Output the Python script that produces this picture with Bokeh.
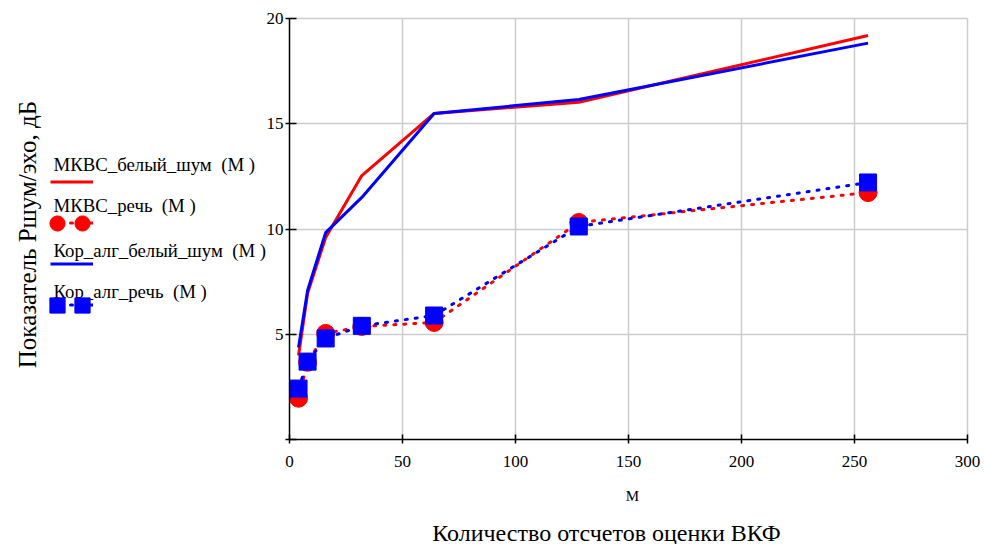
import math
from bokeh.plotting import figure
from bokeh.models import (Legend, LegendItem, Label, Range1d, FixedTicker,
                          LinearAxis, Grid)
from bokeh.embed import file_html
from bokeh.resources import INLINE
from bokeh.core.properties import value

# ---- data ----
M = [4, 8, 16, 32, 64, 128, 256]
mkvs_white = [3.99, 6.94, 9.6, 12.54, 15.49, 16.02, 19.19]
mkvs_speech = [1.96, 3.67, 5.04, 5.37, 5.56, 10.31, 11.73]
kor_white = [4.37, 7.08, 9.83, 11.5, 15.49, 16.15, 18.83]
kor_speech = [2.42, 3.7, 4.8, 5.4, 5.89, 10.12, 12.21]

x_ticks = [0, 50, 100, 150, 200, 250, 300]
y_ticks = [0, 5, 10, 15, 20]
legend_labels = ["МКВС_белый_шум\u00a0 (M )", "МКВС_речь\u00a0 (M )",
                 "Кор_алг_белый_шум\u00a0 (M )", "Кор_алг_речь\u00a0 (M )"]
x_title = "Количество отсчетов оценки ВКФ"
x_var = "M"
y_title = "Показатель Ршум/эхо, дБ"

FONT = "Liberation Serif"
RED = "#ff0000"
BLUE = "#0000ff"

# canvas geometry (pixels): plot area 0..300 -> 289..967, 0..20 -> 439..18
W, H = 986, 544
X0_PX, X1_PX, Y0_PX, Y1_PX = 289, 967, 439, 18
xs = (X1_PX - X0_PX) / (x_ticks[-1] - x_ticks[0])
ys = (Y0_PX - Y1_PX) / (y_ticks[-1] - y_ticks[0])
x_start = x_ticks[0] - X0_PX / xs
y_start = y_ticks[0] - (H - Y0_PX) / ys

p = figure(width=W, height=H,
           x_range=Range1d(x_start, x_start + W / xs),
           y_range=Range1d(y_start, y_start + H / ys),
           x_axis_type=None, y_axis_type=None,
           output_backend="svg", toolbar_location=None,
           min_border=0)
p.outline_line_color = None
p.background_fill_color = "white"
p.border_fill_color = "white"

# grid, limited to the plot area
gx = Grid(dimension=0, ticker=FixedTicker(ticks=x_ticks[1:]), cross_bounds=(y_ticks[0], y_ticks[-1]))
gy = Grid(dimension=1, ticker=FixedTicker(ticks=y_ticks[1:]), cross_bounds=(x_ticks[0], x_ticks[-1]))
for g in (gx, gy):
    g.grid_line_color = "#cccccc"
    g.grid_line_width = 1.5
    p.add_layout(g)

# axes placed inside the frame at 0
xaxis = LinearAxis(fixed_location=0, bounds=(x_ticks[0], x_ticks[-1]),
                   ticker=FixedTicker(ticks=x_ticks))
yaxis = LinearAxis(fixed_location=0, bounds=(y_ticks[0], y_ticks[-1]),
                   ticker=FixedTicker(ticks=y_ticks))
yaxis.major_label_overrides = {0: ""}
for ax in (xaxis, yaxis):
    ax.axis_line_color = "black"
    ax.axis_line_width = 1.5
    ax.major_tick_line_color = "black"
    ax.major_tick_line_width = 1.5
    ax.minor_tick_line_color = None
    ax.major_label_text_font = FONT
    ax.major_label_text_font_size = "17px"
    ax.major_label_text_color = "black"
xaxis.major_tick_in = 5
xaxis.major_tick_out = 4
xaxis.major_label_standoff = 12
yaxis.major_tick_in = 7
yaxis.major_tick_out = 4
yaxis.major_label_standoff = 2
p.add_layout(xaxis, "below")
p.add_layout(yaxis, "left")

# series
r1 = p.line(M, mkvs_white, line_color=RED, line_width=3)
r2 = p.line(M, mkvs_speech, line_color=RED, line_width=3, line_dash="2 8", line_cap="round")
r3 = p.line(M, kor_white, line_color=BLUE, line_width=3)
r4 = p.line(M, kor_speech, line_color=BLUE, line_width=3, line_dash="2 8", line_cap="round")
r5 = p.scatter(M, mkvs_speech, marker="circle", size=18, fill_color=RED, line_color=RED)
r6 = p.scatter(M, kor_speech, marker="square", size=17, fill_color=BLUE, line_color=BLUE)

common = dict(label_text_font_size="1px", label_standoff=0, label_width=0,
              padding=0, margin=0, border_line_alpha=0, background_fill_alpha=0)

legA = Legend(items=[LegendItem(label=value(" "), renderers=[r]) for r in (r1, r2, r3, r4)],
              location=(50, 229), glyph_width=43, glyph_height=21, spacing=20,
              label_height=21, **common)
legB = Legend(items=[LegendItem(label=value(" "), renderers=[r]) for r in (r5, r6)],
              location=(38, 220), glyph_width=38, glyph_height=38, spacing=44,
              label_height=38, **common)
legC = Legend(items=[LegendItem(label=value(" "), renderers=[r]) for r in (r5, r6)],
              location=(63, 220), glyph_width=38, glyph_height=38, spacing=44,
              label_height=38, **common)
for lg in (legA, legB, legC):
    p.add_layout(lg)

# legend texts (label above sample, as in the reference)
baselines = [380, 339, 294, 253]
for txt, yb in zip(legend_labels, baselines):
    p.add_layout(Label(x=53, y=yb, x_units="screen", y_units="screen", text=txt,
                       text_font=FONT, text_font_size="18.8px", text_color="black",
                       text_baseline="alphabetic"))

# axis titles
p.add_layout(Label(x=27, y=310, x_units="screen", y_units="screen", text=y_title,
                   angle=math.pi / 2, text_font=FONT, text_font_size="25px",
                   text_color="black", text_align="center", text_baseline="middle"))
p.add_layout(Label(x=632, y=49, x_units="screen", y_units="screen", text=x_var,
                   text_font=FONT, text_font_size="15px", text_color="black",
                   text_align="center", text_baseline="alphabetic"))
p.add_layout(Label(x=606, y=12, x_units="screen", y_units="screen", text=x_title,
                   text_font=FONT, text_font_size="24px", text_color="black",
                   text_align="center", text_baseline="alphabetic"))

open("out.html", "w").write(file_html(p, INLINE))
